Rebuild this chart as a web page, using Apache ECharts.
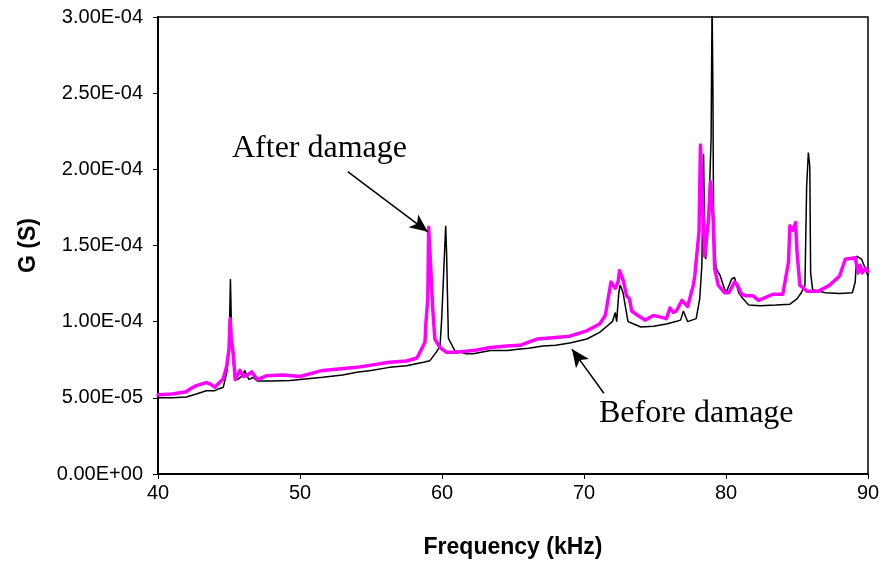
<!DOCTYPE html>
<html>
<head>
<meta charset="utf-8">
<script src="https://cdn.jsdelivr.net/npm/echarts@6/dist/echarts.min.js"></script>
<style>
html,body{margin:0;padding:0;background:#fff;}
#chart{width:886px;height:564px;}
</style>
</head>
<body>
<div id="chart"></div>
<script>
// Before damage (black) : frequency in kHz, conductance G in S
const beforeFreq = [40.0,41.0,42.0,42.7,43.4,44.0,44.3,44.6,44.85,45.0,45.1,45.2,45.4,45.6,46.0,46.1,46.4,46.7,47.0,48.0,49.3,50.0,51.6,53.0,54.0,55.0,56.3,57.5,58.0,58.7,59.15,59.6,59.86,59.98,60.14,60.26,60.32,60.45,60.9,61.7,62.2,63.4,64.6,65.5,66.1,67.1,68.0,69.0,70.2,71.1,71.8,72.0,72.2,72.3,72.45,72.55,72.75,72.95,73.1,73.5,74.0,74.9,75.8,76.4,76.8,77.0,77.3,77.9,78.15,78.3,78.42,78.5,78.57,78.8,78.95,79.02,79.08,79.12,79.2,79.3,79.6,79.8,80.0,80.4,80.6,80.9,81.2,81.6,82.4,83.5,84.5,85.0,85.3,85.56,85.68,85.8,85.9,85.96,86.1,87.0,88.0,88.9,89.1,89.2,89.55,89.8,90.0];
const beforeG = [5.0e-5,5.0e-5,5.05e-5,5.25e-5,5.47e-5,5.47e-5,5.6e-5,5.7e-5,6.7e-5,8.0e-5,12.8e-5,8.5e-5,6.3e-5,6.2e-5,6.5e-5,6.8e-5,6.2e-5,6.35e-5,6.1e-5,6.1e-5,6.13e-5,6.2e-5,6.35e-5,6.5e-5,6.68e-5,6.8e-5,7.0e-5,7.1e-5,7.2e-5,7.33e-5,7.44e-5,8.0e-5,8.4e-5,10.2e-5,13.7e-5,16.3e-5,14.6e-5,8.9e-5,8.1e-5,7.9e-5,7.9e-5,8.1e-5,8.1e-5,8.2e-5,8.25e-5,8.4e-5,8.45e-5,8.6e-5,8.86e-5,9.3e-5,9.85e-5,10.0e-5,10.6e-5,10.0e-5,11.9e-5,12.4e-5,11.9e-5,10.8e-5,10.0e-5,9.85e-5,9.65e-5,9.7e-5,9.85e-5,10.0e-5,10.1e-5,10.7e-5,10.0e-5,10.2e-5,11.5e-5,13.7e-5,21.0e-5,15.0e-5,14.1e-5,17.5e-5,22.0e-5,31.0e-5,25.0e-5,17.2e-5,15.0e-5,13.5e-5,13.0e-5,12.4e-5,11.9e-5,12.8e-5,12.9e-5,11.9e-5,11.5e-5,11.1e-5,11.05e-5,11.1e-5,11.15e-5,11.5e-5,11.9e-5,12.4e-5,18.9e-5,21.1e-5,20.2e-5,13.2e-5,12.1e-5,11.9e-5,11.85e-5,11.9e-5,12.6e-5,14.3e-5,14.1e-5,13.5e-5,13.0e-5];

// After damage (magenta)
const afterFreq = [40.0,41.0,42.0,42.25,42.7,43.4,43.7,44.0,44.6,44.84,45.0,45.08,45.15,45.3,45.44,45.77,46.0,46.3,46.6,47.0,47.66,48.8,50.0,51.6,54.0,56.3,57.5,58.2,58.33,58.8,58.87,59.0,59.06,59.2,59.35,59.5,59.86,60.3,61.0,62.2,63.4,64.56,65.5,66.1,66.7,67.8,69.0,70.2,71.1,71.5,71.7,71.9,72.2,72.4,72.5,72.77,73.0,73.2,73.36,73.8,74.3,74.9,75.4,75.8,76.06,76.3,76.5,76.9,77.3,77.7,77.8,78.1,78.2,78.4,78.5,78.77,78.9,79.1,79.2,79.45,79.9,80.2,80.6,80.8,81.1,81.4,81.9,82.3,83.3,84.0,84.4,84.5,84.7,84.9,85.0,85.2,85.7,86.5,87.3,88.0,88.4,89.1,89.3,89.45,89.6,89.8,90.0];
const afterG = [5.2e-5,5.25e-5,5.4e-5,5.58e-5,5.8e-5,6.0e-5,5.9e-5,5.7e-5,6.25e-5,7.1e-5,8.2e-5,10.2e-5,9.0e-5,7.9e-5,6.2e-5,6.8e-5,6.4e-5,6.5e-5,6.7e-5,6.2e-5,6.45e-5,6.5e-5,6.4e-5,6.8e-5,7.0e-5,7.33e-5,7.42e-5,7.6e-5,7.77e-5,8.65e-5,9.96e-5,11.5e-5,16.2e-5,13.7e-5,10.8e-5,8.86e-5,8.3e-5,8.0e-5,8.0e-5,8.1e-5,8.3e-5,8.4e-5,8.45e-5,8.66e-5,8.86e-5,8.95e-5,9.05e-5,9.4e-5,9.85e-5,10.4e-5,11.5e-5,12.6e-5,12.2e-5,12.6e-5,13.35e-5,12.7e-5,11.7e-5,11.5e-5,10.7e-5,10.4e-5,10.1e-5,10.4e-5,10.3e-5,10.2e-5,10.9e-5,10.6e-5,10.7e-5,11.4e-5,11.0e-5,12.4e-5,13.0e-5,15.9e-5,21.6e-5,16.7e-5,14.3e-5,16.7e-5,19.2e-5,16.7e-5,13.5e-5,12.4e-5,11.9e-5,11.9e-5,12.6e-5,12.4e-5,11.8e-5,11.7e-5,11.7e-5,11.4e-5,11.8e-5,11.8e-5,13.9e-5,16.3e-5,16.0e-5,16.5e-5,14.6e-5,12.4e-5,12.0e-5,12.0e-5,12.4e-5,13.0e-5,14.1e-5,14.2e-5,13.2e-5,13.7e-5,13.2e-5,13.5e-5,13.3e-5];

const yTickLabels = ['0.00E+00','5.00E-05','1.00E-04','1.50E-04','2.00E-04','2.50E-04','3.00E-04'];
const xTickLabels = ['40','50','60','70','80','90'];
const seriesNames = ['Before damage','After damage'];

const chart = echarts.init(document.getElementById('chart'), null, {renderer:'canvas'});
const pair = (xs, ys) => xs.map((x, i) => [x, ys[i]]);

const option = {
  animation: false,
  backgroundColor: '#ffffff',
  grid: {left:158, right:18, top:17, bottom:89, show:true, borderColor:'#000', borderWidth:1.5, backgroundColor:'transparent'},
  xAxis: {
    type:'value', min:40, max:90, interval:10,
    name:'Frequency (kHz)', nameLocation:'middle', nameGap:62,
    nameTextStyle:{fontFamily:'Liberation Sans, Arial, sans-serif', fontSize:23, fontWeight:'bold', color:'#000'},
    axisLine:{show:true, onZero:false, lineStyle:{color:'#000', width:2}},
    axisTick:{show:true, inside:false, length:5, lineStyle:{color:'#000', width:1}},
    axisLabel:{margin:9, fontFamily:'Liberation Sans, Arial, sans-serif', fontSize:20, color:'#000',
      formatter:(v, i) => xTickLabels[i]},
    splitLine:{show:false}
  },
  yAxis: {
    type:'value', min:0, max:0.0003, interval:0.00005,
    name:'G (S)', nameLocation:'middle', nameGap:118, nameRotate:90,
    nameTextStyle:{fontFamily:'Liberation Sans, Arial, sans-serif', fontSize:23, fontWeight:'bold', color:'#000'},
    axisLine:{show:true, lineStyle:{color:'#000', width:2}},
    axisTick:{show:true, inside:false, length:5, lineStyle:{color:'#000', width:1}},
    axisLabel:{margin:15, fontFamily:'Liberation Sans, Arial, sans-serif', fontSize:20, color:'#000',
      formatter:(v, i) => yTickLabels[i]},
    splitLine:{show:false}
  },
  series: [
    {
      name: seriesNames[0], type:'line', data: pair(beforeFreq, beforeG),
      showSymbol:false, symbol:'none', clip:true, z:2,
      lineStyle:{color:'#000', width:1.5},
      markLine: {
        silent:true, symbol:['none','arrow'], symbolSize:[12,18],
        label:{show:false},
        lineStyle:{color:'#000', width:1.5, type:'solid'},
        data: [
          [{coord:[53.36, 1.985e-4]}, {coord:[59.0, 1.59e-4]}],
          [{coord:[71.4, 0.53e-4]}, {coord:[69.15, 0.82e-4]}]
        ]
      }
    },
    {
      name: seriesNames[1], type:'line', data: pair(afterFreq, afterG),
      showSymbol:false, symbol:'none', clip:true, z:3,
      lineStyle:{color:'#FF00FF', width:3.5, join:'round', cap:'round'}
    }
  ],
  graphic: [
    {type:'text', left:232, top:133, z:10, style:{text:'After damage', fontFamily:'Liberation Serif, Times New Roman, serif', fontSize:32, fill:'#000'}},
    {type:'text', left:599, top:398, z:10, style:{text:'Before damage', fontFamily:'Liberation Serif, Times New Roman, serif', fontSize:32, fill:'#000'}}
  ]
};
chart.setOption(option);
</script>
</body>
</html>
